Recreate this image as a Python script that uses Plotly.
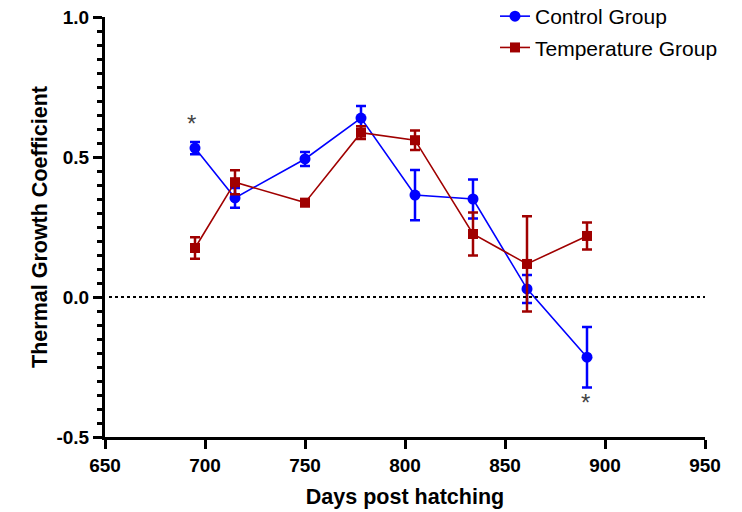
import plotly.graph_objects as go

# Sampling days (days post hatching)
days = [695, 715, 750, 778, 805, 834, 861, 891]

# Control group: mean and SEM
control_mean = [0.532, 0.354, 0.493, 0.639, 0.364, 0.350, 0.029, -0.215]
control_err = [0.022, 0.035, 0.025, 0.043, 0.090, 0.070, 0.050, 0.108]

# Temperature group: mean and SEM
temp_mean = [0.175, 0.410, 0.337, 0.587, 0.560, 0.225, 0.118, 0.218]
temp_err = [0.038, 0.043, 0.012, 0.023, 0.035, 0.077, 0.170, 0.048]

# Significance markers
sig_days = [693, 890]
sig_y = [0.62, -0.375]

BLUE = "#0000FF"
RED = "#A00000"
FONT = "Liberation Sans, Arial, sans-serif"

fig = go.Figure()

fig.add_trace(go.Scatter(
    x=days, y=control_mean, mode="lines+markers", name="Control Group",
    legendgroup="c",
    line=dict(color=BLUE, width=1.6),
    marker=dict(symbol="circle", size=11, color=BLUE),
    error_y=dict(type="data", array=control_err, visible=True,
                 color=BLUE, thickness=2.5, width=5),
))

fig.add_trace(go.Scatter(
    x=days, y=temp_mean, mode="lines+markers", name="Temperature Group",
    legendgroup="t",
    line=dict(color=RED, width=1.6),
    marker=dict(symbol="square", size=10, color=RED),
    error_y=dict(type="data", array=temp_err, visible=True,
                 color=RED, thickness=2.5, width=5),
))

# Dotted reference line at zero
fig.add_shape(type="line", xref="x", yref="y", x0=652, x1=950, y0=0, y1=0,
              line=dict(color="black", width=2, dash="dot"))

for sx, sy in zip(sig_days, sig_y):
    fig.add_annotation(x=sx, y=sy, text="*", showarrow=False,
                       font=dict(family=FONT, size=24, color="#444444"))

tick_font = dict(family=FONT, size=19, color="black", weight="bold")
title_font = dict(family=FONT, size=21.5, color="black", weight="bold")

fig.update_layout(
    width=742, height=512,
    margin=dict(l=105, r=37, t=17, b=75, autoexpand=False),
    plot_bgcolor="white", paper_bgcolor="white",
    showlegend=True,
    legend=dict(x=0.65, y=1.05, xanchor="left", yanchor="top",
                font=dict(family=FONT, size=21, color="black"),
                bgcolor="rgba(0,0,0,0)", tracegroupgap=1),
    xaxis=dict(
        range=[650, 950], tickmode="array",
        tickvals=[650, 700, 750, 800, 850, 900, 950],
        showgrid=False, zeroline=False,
        showline=True, linecolor="black", linewidth=3,
        ticks="outside", ticklen=9, tickwidth=3, tickcolor="black",
        tickfont=tick_font,
        title=dict(text="Days post hatching", font=title_font, standoff=15),
    ),
    yaxis=dict(
        range=[-0.5, 1.0], tickmode="array",
        tickvals=[-0.5, 0.0, 0.5, 1.0],
        ticktext=["-0.5", "0.0", "0.5", "1.0"],
        showgrid=False, zeroline=False,
        showline=True, linecolor="black", linewidth=3,
        ticks="outside", ticklen=9, tickwidth=3, tickcolor="black",
        minor=dict(dtick=0.05, ticks="outside", ticklen=5, tickwidth=3,
                   tickcolor="black", showgrid=False),
        tickfont=tick_font,
        title=dict(text="Thermal Growth Coefficient", font=title_font, standoff=3),
    ),
)

fig.write_html("out.html")
